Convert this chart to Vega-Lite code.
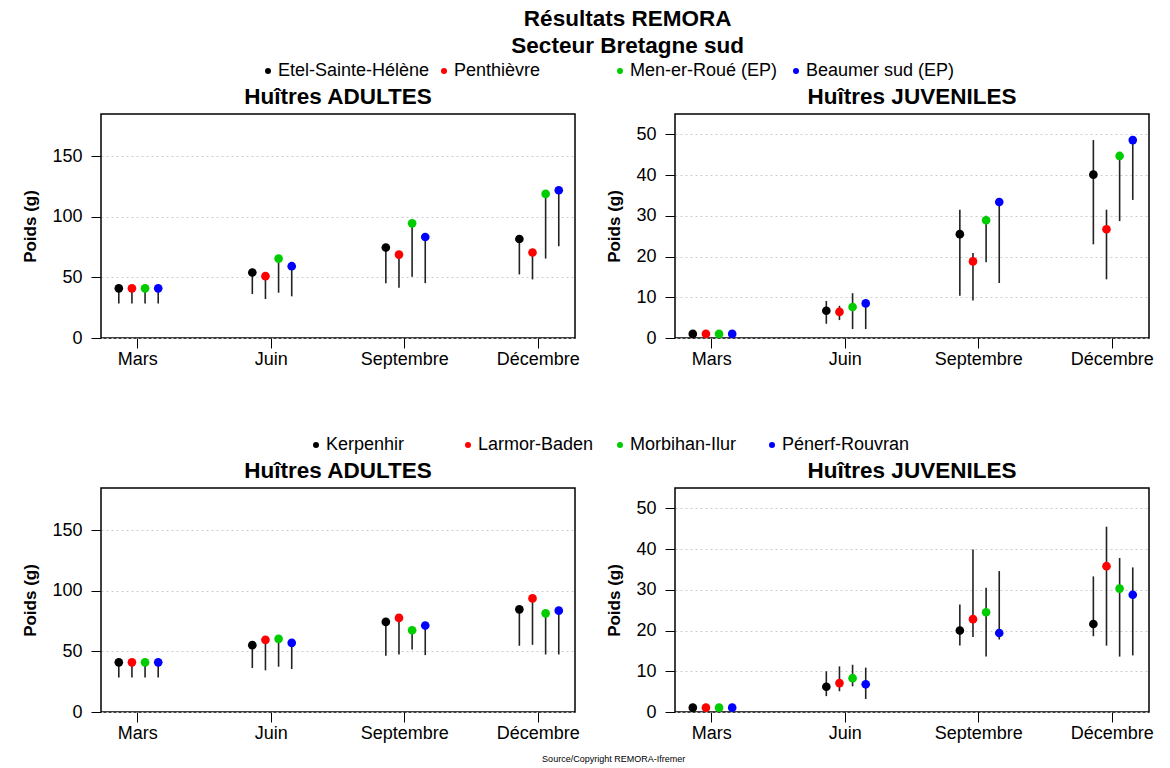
{
  "$schema": "https://vega.github.io/schema/vega-lite/v6.json",
  "padding": {"left": 21, "top": 7, "right": 5, "bottom": 2},
  "title": {"text": ["Résultats REMORA", "Secteur Bretagne sud"], "fontSize": 22.5, "lineHeight": 27, "anchor": "middle", "offset": 5, "dx": 40},
  "datasets": {
    "g1": [
      {"type": "ADULTES", "mois": "Mars", "site": "Etel-Sainte-Hélène", "moy": 41, "min": 28.5, "max": 41},
      {"type": "ADULTES", "mois": "Mars", "site": "Penthièvre", "moy": 41, "min": 28.5, "max": 41},
      {"type": "ADULTES", "mois": "Mars", "site": "Men-er-Roué (EP)", "moy": 41, "min": 28.5, "max": 41},
      {"type": "ADULTES", "mois": "Mars", "site": "Beaumer sud (EP)", "moy": 41, "min": 28.5, "max": 41},
      {"type": "ADULTES", "mois": "Juin", "site": "Etel-Sainte-Hélène", "moy": 54.1, "min": 36.3, "max": 54.1},
      {"type": "ADULTES", "mois": "Juin", "site": "Penthièvre", "moy": 51.1, "min": 32.2, "max": 51.1},
      {"type": "ADULTES", "mois": "Juin", "site": "Men-er-Roué (EP)", "moy": 65.6, "min": 37.4, "max": 65.6},
      {"type": "ADULTES", "mois": "Juin", "site": "Beaumer sud (EP)", "moy": 59.3, "min": 34.4, "max": 59.3},
      {"type": "ADULTES", "mois": "Septembre", "site": "Etel-Sainte-Hélène", "moy": 74.7, "min": 45.3, "max": 74.7},
      {"type": "ADULTES", "mois": "Septembre", "site": "Penthièvre", "moy": 68.9, "min": 41.5, "max": 68.9},
      {"type": "ADULTES", "mois": "Septembre", "site": "Men-er-Roué (EP)", "moy": 94.7, "min": 50.5, "max": 94.7},
      {"type": "ADULTES", "mois": "Septembre", "site": "Beaumer sud (EP)", "moy": 83.4, "min": 45.3, "max": 83.4},
      {"type": "ADULTES", "mois": "Décembre", "site": "Etel-Sainte-Hélène", "moy": 81.8, "min": 52.5, "max": 81.8},
      {"type": "ADULTES", "mois": "Décembre", "site": "Penthièvre", "moy": 70.6, "min": 48.4, "max": 70.6},
      {"type": "ADULTES", "mois": "Décembre", "site": "Men-er-Roué (EP)", "moy": 119, "min": 65.6, "max": 119},
      {"type": "ADULTES", "mois": "Décembre", "site": "Beaumer sud (EP)", "moy": 122, "min": 75.8, "max": 122},
      {"type": "JUVENILES", "mois": "Mars", "site": "Etel-Sainte-Hélène", "moy": 1.0, "min": 0.5, "max": 1.6},
      {"type": "JUVENILES", "mois": "Mars", "site": "Penthièvre", "moy": 1.0, "min": 0.5, "max": 1.6},
      {"type": "JUVENILES", "mois": "Mars", "site": "Men-er-Roué (EP)", "moy": 1.0, "min": 0.5, "max": 1.5},
      {"type": "JUVENILES", "mois": "Mars", "site": "Beaumer sud (EP)", "moy": 1.0, "min": 0.5, "max": 1.5},
      {"type": "JUVENILES", "mois": "Juin", "site": "Etel-Sainte-Hélène", "moy": 6.7, "min": 3.5, "max": 9.1},
      {"type": "JUVENILES", "mois": "Juin", "site": "Penthièvre", "moy": 6.4, "min": 4.4, "max": 7.9},
      {"type": "JUVENILES", "mois": "Juin", "site": "Men-er-Roué (EP)", "moy": 7.6, "min": 2.2, "max": 11.0},
      {"type": "JUVENILES", "mois": "Juin", "site": "Beaumer sud (EP)", "moy": 8.5, "min": 2.2, "max": 8.5},
      {"type": "JUVENILES", "mois": "Septembre", "site": "Etel-Sainte-Hélène", "moy": 25.5, "min": 10.4, "max": 31.5},
      {"type": "JUVENILES", "mois": "Septembre", "site": "Penthièvre", "moy": 18.8, "min": 9.2, "max": 20.9},
      {"type": "JUVENILES", "mois": "Septembre", "site": "Men-er-Roué (EP)", "moy": 28.9, "min": 18.6, "max": 30.0},
      {"type": "JUVENILES", "mois": "Septembre", "site": "Beaumer sud (EP)", "moy": 33.4, "min": 13.5, "max": 33.4},
      {"type": "JUVENILES", "mois": "Décembre", "site": "Etel-Sainte-Hélène", "moy": 40.1, "min": 23.0, "max": 48.6},
      {"type": "JUVENILES", "mois": "Décembre", "site": "Penthièvre", "moy": 26.7, "min": 14.4, "max": 31.5},
      {"type": "JUVENILES", "mois": "Décembre", "site": "Men-er-Roué (EP)", "moy": 44.7, "min": 28.7, "max": 44.7},
      {"type": "JUVENILES", "mois": "Décembre", "site": "Beaumer sud (EP)", "moy": 48.6, "min": 33.9, "max": 48.6}
    ],
    "g2": [
      {"type": "ADULTES", "mois": "Mars", "site": "Kerpenhir", "moy": 41, "min": 28.4, "max": 41},
      {"type": "ADULTES", "mois": "Mars", "site": "Larmor-Baden", "moy": 41, "min": 28.4, "max": 41},
      {"type": "ADULTES", "mois": "Mars", "site": "Morbihan-Ilur", "moy": 41, "min": 28.4, "max": 41},
      {"type": "ADULTES", "mois": "Mars", "site": "Pénerf-Rouvran", "moy": 41, "min": 28.4, "max": 41},
      {"type": "ADULTES", "mois": "Juin", "site": "Kerpenhir", "moy": 55.2, "min": 36.3, "max": 55.2},
      {"type": "ADULTES", "mois": "Juin", "site": "Larmor-Baden", "moy": 59.6, "min": 34.4, "max": 59.6},
      {"type": "ADULTES", "mois": "Juin", "site": "Morbihan-Ilur", "moy": 60.4, "min": 37.4, "max": 60.4},
      {"type": "ADULTES", "mois": "Juin", "site": "Pénerf-Rouvran", "moy": 57.1, "min": 35.5, "max": 57.1},
      {"type": "ADULTES", "mois": "Septembre", "site": "Kerpenhir", "moy": 74.4, "min": 46.4, "max": 74.4},
      {"type": "ADULTES", "mois": "Septembre", "site": "Larmor-Baden", "moy": 77.7, "min": 47.5, "max": 77.7},
      {"type": "ADULTES", "mois": "Septembre", "site": "Morbihan-Ilur", "moy": 67.5, "min": 51.6, "max": 67.5},
      {"type": "ADULTES", "mois": "Septembre", "site": "Pénerf-Rouvran", "moy": 71.4, "min": 47.0, "max": 71.4},
      {"type": "ADULTES", "mois": "Décembre", "site": "Kerpenhir", "moy": 84.8, "min": 54.7, "max": 84.8},
      {"type": "ADULTES", "mois": "Décembre", "site": "Larmor-Baden", "moy": 93.8, "min": 55.5, "max": 93.8},
      {"type": "ADULTES", "mois": "Décembre", "site": "Morbihan-Ilur", "moy": 81.5, "min": 47.5, "max": 81.5},
      {"type": "ADULTES", "mois": "Décembre", "site": "Pénerf-Rouvran", "moy": 83.7, "min": 47.5, "max": 83.7},
      {"type": "JUVENILES", "mois": "Mars", "site": "Kerpenhir", "moy": 1.07, "min": 0.5, "max": 1.6},
      {"type": "JUVENILES", "mois": "Mars", "site": "Larmor-Baden", "moy": 1.07, "min": 0.5, "max": 1.6},
      {"type": "JUVENILES", "mois": "Mars", "site": "Morbihan-Ilur", "moy": 1.07, "min": 0.5, "max": 1.5},
      {"type": "JUVENILES", "mois": "Mars", "site": "Pénerf-Rouvran", "moy": 1.07, "min": 0.5, "max": 1.5},
      {"type": "JUVENILES", "mois": "Juin", "site": "Kerpenhir", "moy": 6.2, "min": 3.9, "max": 10.0},
      {"type": "JUVENILES", "mois": "Juin", "site": "Larmor-Baden", "moy": 7.1, "min": 5.1, "max": 11.2},
      {"type": "JUVENILES", "mois": "Juin", "site": "Morbihan-Ilur", "moy": 8.3, "min": 6.3, "max": 11.6},
      {"type": "JUVENILES", "mois": "Juin", "site": "Pénerf-Rouvran", "moy": 6.8, "min": 3.2, "max": 10.9},
      {"type": "JUVENILES", "mois": "Septembre", "site": "Kerpenhir", "moy": 20.0, "min": 16.3, "max": 26.4},
      {"type": "JUVENILES", "mois": "Septembre", "site": "Larmor-Baden", "moy": 22.8, "min": 18.4, "max": 39.9},
      {"type": "JUVENILES", "mois": "Septembre", "site": "Morbihan-Ilur", "moy": 24.5, "min": 13.6, "max": 30.5},
      {"type": "JUVENILES", "mois": "Septembre", "site": "Pénerf-Rouvran", "moy": 19.4, "min": 17.8, "max": 34.6},
      {"type": "JUVENILES", "mois": "Décembre", "site": "Kerpenhir", "moy": 21.6, "min": 18.6, "max": 33.3},
      {"type": "JUVENILES", "mois": "Décembre", "site": "Larmor-Baden", "moy": 35.8, "min": 16.3, "max": 45.5},
      {"type": "JUVENILES", "mois": "Décembre", "site": "Morbihan-Ilur", "moy": 30.3, "min": 13.6, "max": 37.8},
      {"type": "JUVENILES", "mois": "Décembre", "site": "Pénerf-Rouvran", "moy": 28.8, "min": 13.9, "max": 35.5}
    ]
  },
  "vconcat": [
    {
      "title": {"text": "Source/Copyright REMORA-Ifremer", "orient": "bottom", "fontSize": 9, "fontWeight": "normal", "offset": 12, "anchor": "middle", "dx": 26},
      "spacing": 67,
      "resolve": {"scale": {"color": "independent", "x": "independent", "y": "independent", "xOffset": "independent"}, "legend": {"color": "independent"}},
      "vconcat": [
        {
          "bounds": "flush",
          "spacing": 100,
          "resolve": {"scale": {"color": "shared", "x": "independent", "y": "independent", "xOffset": "independent"}, "legend": {"color": "shared"}},
          "hconcat": [
            {
              "data": {"name": "g1"},
              "width": 474, "height": 224,
              "title": {"text": "Huîtres ADULTES", "frame": "group", "anchor": "middle"},
              "transform": [{"filter": "datum.type === 'ADULTES'"}],
              "encoding": {
                "x": {"field": "mois", "type": "nominal", "sort": ["Mars", "Juin", "Septembre", "Décembre"], "scale": {"type": "band", "paddingInner": 0.45, "paddingOuter": 0}, "axis": {"title": null, "labelAngle": 0}},
                "xOffset": {"field": "site", "type": "nominal", "sort": ["Etel-Sainte-Hélène", "Penthièvre", "Men-er-Roué (EP)", "Beaumer sud (EP)"], "scale": {"type": "point", "padding": 0, "range": [17.8, 57.2]}}
              },
              "layer": [
                {"mark": {"type": "rule", "color": "#222222", "strokeWidth": 1.6},
                 "encoding": {"y": {"field": "min", "type": "quantitative", "scale": {"domain": [0, 185], "nice": false}, "axis": {"title": "Poids (g)", "values": [0, 50, 100, 150]}}, "y2": {"field": "max"}}},
                {"mark": {"type": "point", "filled": true, "opacity": 1, "size": 75},
                 "encoding": {"y": {"field": "moy", "type": "quantitative", "axis": {"title": "Poids (g)", "values": [0, 50, 100, 150]}},
                   "color": {"field": "site", "type": "nominal", "scale": {"domain": ["Etel-Sainte-Hélène", "Penthièvre", "Men-er-Roué (EP)", "Beaumer sud (EP)"], "range": ["#000000", "#ff0000", "#00cd00", "#0000ff"]},
                     "legend": {"title": null, "orient": "none", "legendX": 158, "legendY": -52, "direction": "horizontal", "columns": 4}}}}
              ]
            },
            {
              "data": {"name": "g1"},
              "width": 474, "height": 224,
              "title": {"text": "Huîtres JUVENILES", "frame": "group", "anchor": "middle"},
              "transform": [{"filter": "datum.type === 'JUVENILES'"}],
              "encoding": {
                "x": {"field": "mois", "type": "nominal", "sort": ["Mars", "Juin", "Septembre", "Décembre"], "scale": {"type": "band", "paddingInner": 0.45, "paddingOuter": 0}, "axis": {"title": null, "labelAngle": 0}},
                "xOffset": {"field": "site", "type": "nominal", "sort": ["Etel-Sainte-Hélène", "Penthièvre", "Men-er-Roué (EP)", "Beaumer sud (EP)"], "scale": {"type": "point", "padding": 0, "range": [17.8, 57.2]}}
              },
              "layer": [
                {"mark": {"type": "rule", "color": "#222222", "strokeWidth": 1.6},
                 "encoding": {"y": {"field": "min", "type": "quantitative", "scale": {"domain": [0, 55], "nice": false}, "axis": {"title": "Poids (g)", "values": [0, 10, 20, 30, 40, 50]}}, "y2": {"field": "max"}}},
                {"mark": {"type": "point", "filled": true, "opacity": 1, "size": 75},
                 "encoding": {"y": {"field": "moy", "type": "quantitative", "axis": {"title": "Poids (g)", "values": [0, 10, 20, 30, 40, 50]}},
                   "color": {"field": "site", "type": "nominal", "scale": {"domain": ["Etel-Sainte-Hélène", "Penthièvre", "Men-er-Roué (EP)", "Beaumer sud (EP)"], "range": ["#000000", "#ff0000", "#00cd00", "#0000ff"]},
                     "legend": {"title": null, "orient": "none", "legendX": 158, "legendY": -52, "direction": "horizontal", "columns": 4}}}}
              ]
            }
          ]
        },
        {
          "bounds": "flush",
          "spacing": 100,
          "resolve": {"scale": {"color": "shared", "x": "independent", "y": "independent", "xOffset": "independent"}, "legend": {"color": "shared"}},
          "hconcat": [
            {
              "data": {"name": "g2"},
              "width": 474, "height": 224,
              "title": {"text": "Huîtres ADULTES", "frame": "group", "anchor": "middle"},
              "transform": [{"filter": "datum.type === 'ADULTES'"}],
              "encoding": {
                "x": {"field": "mois", "type": "nominal", "sort": ["Mars", "Juin", "Septembre", "Décembre"], "scale": {"type": "band", "paddingInner": 0.45, "paddingOuter": 0}, "axis": {"title": null, "labelAngle": 0}},
                "xOffset": {"field": "site", "type": "nominal", "sort": ["Kerpenhir", "Larmor-Baden", "Morbihan-Ilur", "Pénerf-Rouvran"], "scale": {"type": "point", "padding": 0, "range": [17.8, 57.2]}}
              },
              "layer": [
                {"mark": {"type": "rule", "color": "#222222", "strokeWidth": 1.6},
                 "encoding": {"y": {"field": "min", "type": "quantitative", "scale": {"domain": [0, 185], "nice": false}, "axis": {"title": "Poids (g)", "values": [0, 50, 100, 150]}}, "y2": {"field": "max"}}},
                {"mark": {"type": "point", "filled": true, "opacity": 1, "size": 75},
                 "encoding": {"y": {"field": "moy", "type": "quantitative", "axis": {"title": "Poids (g)", "values": [0, 50, 100, 150]}},
                   "color": {"field": "site", "type": "nominal", "scale": {"domain": ["Kerpenhir", "Larmor-Baden", "Morbihan-Ilur", "Pénerf-Rouvran"], "range": ["#000000", "#ff0000", "#00cd00", "#0000ff"]},
                     "legend": {"title": null, "orient": "none", "legendX": 206, "legendY": -52, "direction": "horizontal", "columns": 4}}}}
              ]
            },
            {
              "data": {"name": "g2"},
              "width": 474, "height": 224,
              "title": {"text": "Huîtres JUVENILES", "frame": "group", "anchor": "middle"},
              "transform": [{"filter": "datum.type === 'JUVENILES'"}],
              "encoding": {
                "x": {"field": "mois", "type": "nominal", "sort": ["Mars", "Juin", "Septembre", "Décembre"], "scale": {"type": "band", "paddingInner": 0.45, "paddingOuter": 0}, "axis": {"title": null, "labelAngle": 0}},
                "xOffset": {"field": "site", "type": "nominal", "sort": ["Kerpenhir", "Larmor-Baden", "Morbihan-Ilur", "Pénerf-Rouvran"], "scale": {"type": "point", "padding": 0, "range": [17.8, 57.2]}}
              },
              "layer": [
                {"mark": {"type": "rule", "color": "#222222", "strokeWidth": 1.6},
                 "encoding": {"y": {"field": "min", "type": "quantitative", "scale": {"domain": [0, 55], "nice": false}, "axis": {"title": "Poids (g)", "values": [0, 10, 20, 30, 40, 50]}}, "y2": {"field": "max"}}},
                {"mark": {"type": "point", "filled": true, "opacity": 1, "size": 75},
                 "encoding": {"y": {"field": "moy", "type": "quantitative", "axis": {"title": "Poids (g)", "values": [0, 10, 20, 30, 40, 50]}},
                   "color": {"field": "site", "type": "nominal", "scale": {"domain": ["Kerpenhir", "Larmor-Baden", "Morbihan-Ilur", "Pénerf-Rouvran"], "range": ["#000000", "#ff0000", "#00cd00", "#0000ff"]},
                     "legend": {"title": null, "orient": "none", "legendX": 206, "legendY": -52, "direction": "horizontal", "columns": 4}}}}
              ]
            }
          ]
        }
      ]
    }
  ],
  "config": {
    "font": "Liberation Sans",
    "view": {"stroke": "#000000", "strokeWidth": 1.5},
    "axis": {"labelFont": "Liberation Sans", "labelFontSize": 18, "labelColor": "#000000", "tickColor": "#000000", "tickSize": 10, "tickWidth": 1, "domain": false, "titleFont": "Liberation Sans", "titleFontSize": 17, "titleFontWeight": "bold", "titleColor": "#000000"},
    "axisY": {"grid": true, "gridDash": [2, 3], "gridColor": "#cccccc", "gridWidth": 1, "labelPadding": 9, "titlePadding": 12},
    "axisX": {"grid": false, "labelPadding": 2},
    "title": {"font": "Liberation Sans", "fontSize": 22.5, "fontWeight": "bold", "color": "#000000", "offset": 6},
    "legend": {"labelFont": "Liberation Sans", "labelFontSize": 18, "labelColor": "#000000", "symbolType": "circle", "symbolSize": 36, "symbolStrokeWidth": 0, "labelOffset": 1, "columnPadding": 5, "gridAlign": "all", "padding": 0}
  }
}
